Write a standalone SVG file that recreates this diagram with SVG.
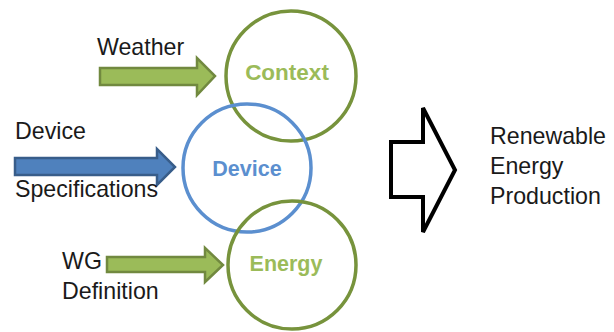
<svg xmlns="http://www.w3.org/2000/svg" width="614" height="332" viewBox="0 0 614 332">
<style>
.lbl{font-family:"Liberation Sans",Arial,sans-serif;font-size:23.2px;fill:#1a1a1a}
.clbl{font-family:"Liberation Sans",Arial,sans-serif;font-weight:bold;text-anchor:middle}
.gc{fill:none;stroke:#77933C;stroke-width:3.5}
.bc{fill:none;stroke:#5B8FCF;stroke-width:3.5}
.ga{fill:#9BBB59;stroke:#71893F;stroke-width:2.5;stroke-linejoin:miter}
.ba{fill:#4F81BD;stroke:#385D8A;stroke-width:2.5;stroke-linejoin:miter}
</style>
<rect width="614" height="332" fill="#ffffff"/>
<g id="connectors">
<polygon class="ga" points="100,68 197,68 197,58 215,76 197,95 197,85 100,85"/>
<polygon class="ba" points="15,158 157,158 157,149 175,167 157,185 157,175 15,175"/>
<polygon class="ga" points="107,257 205,257 205,248 223,265 205,282 205,272 107,272"/>
<polygon points="391,142 423,142 423,108 455,170 423,232 423,197 391,197" fill="#ffffff" stroke="#000000" stroke-width="4" stroke-linejoin="miter"/>
</g>
<g id="context">
<circle class="gc" cx="291" cy="76" r="65"/>
<text class="clbl" x="287" y="80" font-size="22.5" fill="#9BBB59">Context</text>
</g>
<g id="device">
<circle class="bc" cx="247" cy="168" r="64"/>
<text class="clbl" x="247" y="176" font-size="21.5" fill="#5B8FCF">Device</text>
</g>
<g id="energy">
<circle class="gc" cx="292" cy="265" r="64"/>
<text class="clbl" x="286" y="271" font-size="21.5" fill="#9BBB59">Energy</text>
</g>
<g id="weather"><text class="lbl" x="97" y="55">Weather</text></g>
<g id="device-spec"><text class="lbl" x="15" y="139">Device</text><text class="lbl" x="15" y="197">Specifications</text></g>
<g id="wg-def"><text class="lbl" x="62" y="269">WG</text><text class="lbl" x="62" y="299">Definition</text></g>
<g id="output"><text class="lbl" x="490" y="144">Renewable</text><text class="lbl" x="490" y="174">Energy</text><text class="lbl" x="490" y="204">Production</text></g>
</svg>
